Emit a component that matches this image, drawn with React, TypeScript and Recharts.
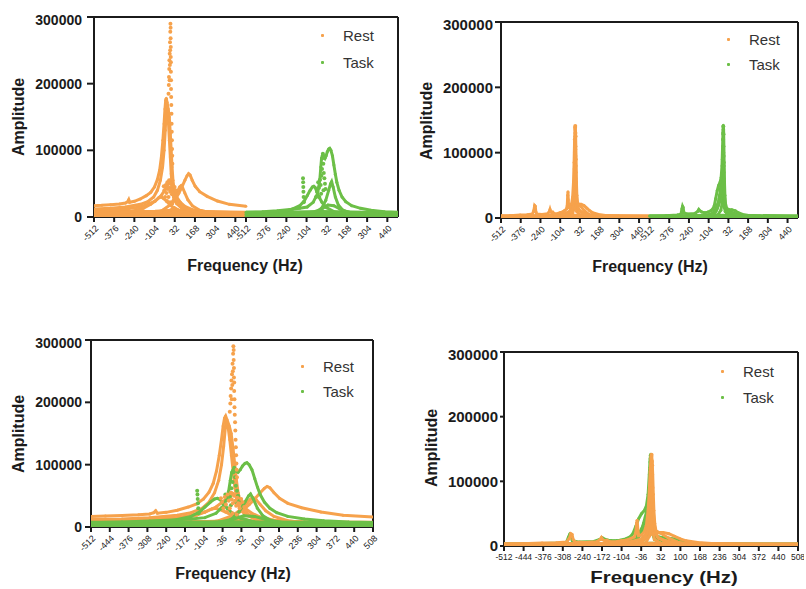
import React from "react";
import { ScatterChart, Scatter, XAxis, YAxis, ReferenceLine } from "recharts";

type Pt = [number, number];

const REST = "#F6A24C";
const TASK = "#6CBF47";
const INK = "#1b1b1b";
const FONT = "'Liberation Sans', Arial, Helvetica, sans-serif";

const halfTicks = [-512, -376, -240, -104, 32, 168, 304, 440];
const fullTicks = [-512, -444, -376, -308, -240, -172, -104, -36, 32, 100, 168, 236, 304, 372, 440, 508];
const ampTicks = [0, 100000, 200000, 300000];

// ---- dataset A (top-left split view, bottom-left overlay) ----
const restA1: Pt[] = [
  [-512, 17000], [-460, 17500], [-400, 18500], [-340, 19500], [-300, 21000], [-285, 23000], [-278, 26000],
  [-272, 22000], [-240, 23500], [-200, 27000], [-160, 32000], [-130, 37000], [-105, 45000], [-85, 56000],
  [-70, 70000], [-58, 90000], [-48, 115000], [-40, 140000], [-34, 162000], [-29, 175000], [-25, 178000],
  [-20, 172000], [-12, 162000], [-5, 150000], [2, 125000], [8, 100000], [14, 75000], [20, 55000],
  [28, 40000], [40, 28000], [60, 19000], [100, 13000], [180, 9000], [300, 7000], [420, 6000], [511, 5500],
];
const restA1b: Pt[] = [
  [-512, 12000], [-400, 13000], [-300, 15000], [-200, 19000], [-150, 23000], [-110, 30000], [-85, 40000],
  [-65, 55000], [-50, 75000], [-40, 100000], [-32, 130000], [-26, 160000], [-22, 170000], [-16, 160000],
  [-10, 140000], [-4, 115000], [2, 90000], [8, 65000], [15, 45000], [25, 30000], [45, 20000], [80, 13000],
  [150, 9000], [300, 6000], [511, 5000],
];
const restA2: Pt[] = [
  [0, 18000], [20, 22000], [40, 28000], [60, 36000], [80, 45000], [100, 55000], [115, 62000], [125, 65000],
  [135, 63000], [150, 55000], [170, 46000], [200, 38000], [250, 31000], [320, 24000], [400, 19000], [511, 16000],
];
const restA3: Pt[] = [
  [-512, 9000], [-400, 10000], [-300, 12000], [-200, 15000], [-150, 19000], [-100, 24000], [-60, 32000],
  [-30, 42000], [-10, 50000], [0, 54000], [10, 50000], [25, 40000], [45, 30000], [70, 22000], [100, 16000],
  [150, 11000], [250, 8000], [511, 6000],
];
const restA4: Pt[] = [
  [-512, 4000], [-350, 6000], [-250, 9000], [-180, 13000], [-130, 19000], [-100, 24000], [-75, 29000],
  [-60, 30000], [-45, 28000], [-25, 24000], [0, 18000], [30, 13000], [80, 8000], [150, 6000], [300, 4000], [511, 3000],
];
const restA5: Pt[] = [
  [-200, 3000], [-100, 6000], [-50, 10000], [0, 18000], [30, 28000], [50, 38000], [65, 45000], [75, 47000],
  [85, 44000], [100, 36000], [120, 26000], [150, 17000], [200, 10000], [300, 5000], [511, 3000],
];
const restA6: Pt[] = [
  [-512, 2000], [-100, 5000], [0, 10000], [30, 14000], [60, 10000], [150, 5000], [511, 2000],
];
const restAFloor: Pt[] = [
  [-512, 4000], [-300, 4500], [-100, 5000], [0, 6000], [100, 5000], [300, 4000], [511, 3500],
];
const restASpike: Pt[] = [
  [-10, 185000], [-8, 198000], [-7, 210000], [-5, 222000], [-4, 235000], [-3, 205000], [-2, 245000],
  [-1, 228000], [0, 262000], [1, 250000], [2, 278000], [3, 290000], [4, 284000], [4, 268000], [5, 255000],
  [5, 240000], [6, 232000], [6, 218000], [7, 205000], [7, 192000], [8, 180000], [9, 168000], [10, 155000],
  [11, 140000], [12, 128000], [13, 115000], [14, 102000], [15, 92000], [16, 80000],
];
const restAMid: Pt[] = [
  [-42, 46000], [-38, 40000], [-33, 30000], [-28, 48000], [-24, 36000], [-18, 52000], [-14, 42000],
  [-10, 30000], [-6, 55000], [-3, 44000], [1, 38000], [5, 50000], [9, 42000], [13, 34000], [17, 47000],
  [21, 38000], [26, 30000], [31, 45000], [36, 40000], [42, 32000], [50, 26000], [-20, 24000], [0, 22000], [15, 20000],
];

const taskA1: Pt[] = [
  [-512, 7000], [-400, 8000], [-300, 9500], [-200, 11500], [-150, 13000], [-100, 15000], [-60, 22000],
  [-30, 35000], [-15, 55000], [-8, 75000], [-3, 88000], [2, 92000], [8, 93000], [14, 90000], [20, 88000],
  [28, 92000], [36, 98000], [45, 102000], [52, 103000], [60, 100000], [70, 92000], [80, 78000], [90, 64000],
  [100, 52000], [115, 40000], [135, 30000], [160, 23000], [200, 17000], [260, 13000], [330, 10000],
  [420, 8000], [511, 7000],
];
const taskA2: Pt[] = [
  [-512, 4000], [-400, 5000], [-300, 7000], [-240, 9000], [-200, 12000], [-150, 17000], [-120, 24000],
  [-100, 32000], [-80, 40000], [-65, 45000], [-55, 46000], [-45, 44000], [-35, 38000], [-20, 30000],
  [0, 22000], [30, 14000], [80, 8000], [150, 5000], [300, 3000], [511, 2000],
];
const taskA3: Pt[] = [
  [-100, 3000], [-30, 8000], [0, 14000], [25, 25000], [45, 40000], [58, 50000], [65, 53000], [75, 45000],
  [90, 30000], [110, 18000], [140, 10000], [200, 6000], [300, 4000], [511, 3000],
];
const taskA4: Pt[] = [
  [-512, 1000], [-200, 3000], [-50, 8000], [0, 12000], [40, 18000], [80, 17000], [120, 12000],
  [180, 7000], [300, 3000], [511, 1500],
];
const taskAFloor: Pt[] = [
  [-512, 3500], [-300, 3500], [-100, 4000], [0, 4500], [100, 4000], [300, 3500], [511, 3000],
];
const taskASpike: Pt[] = [
  [-128, 58000], [-127, 52000], [-126, 45000], [-125, 38000], [-124, 30000], [-123, 22000],
];
const taskAMid: Pt[] = [
  [-40, 30000], [-32, 38000], [-26, 52000], [-20, 44000], [-14, 56000], [-9, 48000], [-4, 62000],
  [0, 72000], [3, 88000], [6, 95000], [9, 80000], [12, 66000], [16, 58000], [20, 50000], [24, 42000],
  [-18, 30000], [-6, 35000], [10, 40000],
];

// ---- dataset B (top-right split view, bottom-right overlay) ----
const restB1: Pt[] = [
  [-512, 3000], [-450, 3500], [-380, 4500], [-330, 5000], [-295, 6000], [-285, 12000], [-280, 19000],
  [-276, 18000], [-272, 10000], [-265, 6000], [-230, 5500], [-190, 6500], [-178, 10000], [-174, 13000],
  [-170, 10000], [-162, 8000], [-155, 9000], [-145, 6500], [-120, 7000], [-105, 8000], [-90, 9000],
  [-75, 11000], [-60, 14000], [-55, 20000], [-52, 35000], [-50, 40000], [-48, 28000], [-45, 16000],
  [-35, 17000], [-25, 22000], [-18, 32000], [-12, 55000], [-8, 85000], [-5, 115000], [-2, 135000],
  [0, 140000], [2, 132000], [4, 110000], [6, 80000], [8, 55000], [11, 35000], [15, 24000], [25, 21000],
  [40, 21000], [60, 19000], [80, 15000], [100, 11000], [120, 8000], [160, 5500], [220, 3500], [300, 2500],
  [400, 2000], [511, 2000],
];
const restB2: Pt[] = [
  [-80, 3000], [-40, 6000], [-10, 15000], [10, 22000], [30, 20000], [60, 12000], [90, 6000], [130, 3000], [200, 1500],
];
const restB3: Pt[] = [
  [-150, 3000], [-80, 6000], [-40, 10000], [-20, 18000], [-10, 30000], [-5, 50000], [0, 70000], [5, 45000],
  [10, 25000], [20, 14000], [40, 9000], [80, 5000], [150, 3000],
];
const restB4: Pt[] = [
  [-30, 8000], [-15, 20000], [-8, 40000], [-4, 75000], [-2, 110000], [0, 125000], [2, 100000], [5, 60000],
  [9, 35000], [14, 20000], [25, 12000], [50, 8000],
];
const restB5: Pt[] = [
  [-20, 5000], [-8, 15000], [-3, 30000], [0, 45000], [3, 25000], [10, 10000], [30, 5000],
];
const restBFloor: Pt[] = [[-512, 2000], [-200, 2200], [0, 2600], [200, 2200], [511, 1800]];
const restBSpike: Pt[] = [
  [-3, 120000], [-1, 138000], [0, 141000], [1, 130000], [2, 125000], [-2, 100000], [3, 90000],
  [-4, 75000], [0, 105000], [1, 95000], [-1, 80000], [2, 70000],
];

const taskB1: Pt[] = [
  [-512, 3000], [-400, 3500], [-320, 4500], [-295, 6000], [-288, 14000], [-284, 18000], [-280, 16000],
  [-275, 8000], [-250, 6000], [-200, 7000], [-180, 10000], [-172, 13000], [-165, 11000], [-150, 9000],
  [-130, 8000], [-110, 9000], [-90, 11000], [-75, 14000], [-65, 19000], [-55, 30000], [-45, 42000],
  [-35, 50000], [-25, 55000], [-18, 62000], [-12, 80000], [-8, 110000], [-5, 135000], [-3, 142000],
  [-1, 135000], [1, 110000], [3, 80000], [5, 55000], [8, 35000], [12, 22000], [20, 15000], [35, 13000],
  [55, 12500], [80, 11000], [100, 8000], [130, 5500], [170, 4000], [250, 3000], [350, 2500], [511, 2000],
];
const taskB2: Pt[] = [
  [-60, 8000], [-45, 15000], [-35, 25000], [-28, 35000], [-22, 45000], [-18, 52000], [-12, 45000],
  [-8, 30000], [0, 20000], [10, 15000], [30, 10000], [60, 7000], [100, 4000],
];
const taskB3: Pt[] = [
  [-120, 4000], [-80, 7000], [-60, 12000], [-40, 22000], [-25, 35000], [-15, 50000], [-8, 70000],
  [-3, 95000], [2, 60000], [6, 30000], [12, 16000], [25, 11000], [60, 8000], [120, 4000],
];
const taskB4: Pt[] = [
  [-70, 5000], [-50, 12000], [-35, 20000], [-20, 30000], [-10, 45000], [-5, 70000], [-3, 100000],
  [-1, 60000], [3, 30000], [8, 15000], [20, 8000], [50, 5000],
];
const taskB5: Pt[] = [
  [-40, 5000], [-20, 12000], [-8, 25000], [-3, 50000], [0, 25000], [10, 10000], [40, 4000],
];
const taskBFloor: Pt[] = [[-512, 2000], [-200, 2200], [0, 2800], [200, 2200], [511, 1800]];
const taskBSpike: Pt[] = [
  [-4, 130000], [-3, 140000], [-2, 128000], [-5, 120000], [-3, 100000], [-1, 95000], [-6, 90000],
  [0, 85000], [-4, 75000], [-2, 70000],
];

type Layer = { pts: Pt[]; color: string; mode: "line" | "dots" | "band"; w: number; off: number };

const L = (pts: Pt[], color: string, w = 3) => ({ pts, color, mode: "line" as const, w, off: 0 });
const D = (pts: Pt[], color: string) => ({ pts, color, mode: "dots" as const, w: 0, off: 0 });
const B = (pts: Pt[], color: string, w: number) => ({ pts, color, mode: "band" as const, w, off: 0 });
const shift = (ls: Layer[], off: number) => ls.map((l) => ({ ...l, off }));

const restALayers: Layer[] = [
  B(restAFloor, REST, 8), L(restA6, REST), L(restA4, REST), L(restA5, REST), L(restA3, REST),
  L(restA2, REST), L(restA1b, REST), L(restA1, REST), D(restAMid, REST), D(restASpike, REST),
];
const taskALayers: Layer[] = [
  B(taskAFloor, TASK, 8), L(taskA4, TASK), L(taskA3, TASK), L(taskA2, TASK), L(taskA1, TASK),
  D(taskAMid, TASK), D(taskASpike, TASK),
];
const restBLayers: Layer[] = [
  B(restBFloor, REST, 5), L(restB2, REST), L(restB3, REST), L(restB5, REST), L(restB4, REST),
  L(restB1, REST), D(restBSpike, REST),
];
const taskBLayers: Layer[] = [
  B(taskBFloor, TASK, 5), L(taskB2, TASK), L(taskB5, TASK), L(taskB4, TASK), L(taskB3, TASK),
  L(taskB1, TASK), D(taskBSpike, TASK),
];

const splitTicks = [...halfTicks.map((t) => t + 512), ...halfTicks.map((t) => t + 1536)];
const splitLabel = (v: number) => (v % 1024) - 512;

const YTick = (fs: number) => (p: any) => (
  <text x={p.x} y={p.y} dy="0.36em" textAnchor="end" fontSize={fs} fontWeight={700} fill={INK} fontFamily={FONT}>
    {p.payload.value}
  </text>
);

const RotTick = (split: boolean) => (p: any) => {
  const v = split ? splitLabel(p.payload.value) : p.payload.value;
  return (
    <text
      transform={`translate(${p.x + 5},${p.y + 5}) rotate(-45)`}
      textAnchor="end"
      fontSize={9}
      fill="#222"
      fontFamily={FONT}
    >
      {v}
    </text>
  );
};

const FlatTick = (p: any) => (
  <text x={p.x} y={p.y} dy={7} textAnchor="middle" fontSize={8.5} fill="#222" fontFamily={FONT}>
    {p.payload.value}
  </text>
);

interface PanelProps {
  left: number;
  top: number;
  w: number;
  h: number;
  split: boolean;
  layers: Layer[];
  yfs: number;
  ytick: number;
  ymargin: number;
  flat?: boolean;
}

function Panel({ left, top, w, h, split, layers, yfs, ytick, ymargin, flat }: PanelProps) {
  const yw = 70;
  const xh = 34;
  const xDomain: [number, number] = split ? [0, 2048] : [-512, 508];
  return (
    <div style={{ position: "absolute", left: left - yw, top: top - 6 }}>
      <ScatterChart width={yw + w + 6} height={h + 6 + xh} margin={{ top: 6, right: 6, left: 0, bottom: 0 }}>
        <XAxis
          type="number"
          dataKey="x"
          domain={xDomain}
          ticks={split ? splitTicks : fullTicks}
          interval={0}
          allowDataOverflow
          height={xh}
          tickSize={5}
          tickMargin={2}
          tick={flat ? FlatTick : RotTick(split)}
          axisLine={{ stroke: INK, strokeWidth: 2 }}
          tickLine={{ stroke: INK, strokeWidth: 2 }}
        />
        <YAxis
          type="number"
          dataKey="y"
          domain={[0, 300000]}
          ticks={ampTicks}
          allowDataOverflow
          width={yw}
          tickSize={ytick}
          tickMargin={ymargin}
          tick={YTick(yfs)}
          axisLine={{ stroke: INK, strokeWidth: 2 }}
          tickLine={{ stroke: INK, strokeWidth: 2 }}
        />
        {layers.map((l, i) => (
          <Scatter
            key={i}
            data={l.pts.map(([f, a]) => ({ x: f + l.off, y: a }))}
            fill={l.color}
            isAnimationActive={false}
            line={l.mode === "dots" ? false : { stroke: l.color, strokeWidth: l.w }}
            lineType="joint"
            shape={(p: any) =>
              l.mode === "band" ? <g /> : <circle cx={p.cx} cy={p.cy} r={l.mode === "dots" ? 2 : 1.5} fill={l.color} />
            }
          />
        ))}
        <ReferenceLine y={300000} stroke={INK} strokeWidth={2} />
        <ReferenceLine x={xDomain[1]} stroke={INK} strokeWidth={2} />
      </ScatterChart>
    </div>
  );
}

const AmpLabel = ({ x, y }: { x: number; y: number }) => (
  <div
    style={{
      position: "absolute", left: x, top: y, transform: "translate(-50%, -50%) rotate(-90deg)",
      fontFamily: FONT, fontWeight: 700, fontSize: 16, color: INK, whiteSpace: "nowrap",
    }}
  >
    Amplitude
  </div>
);

const FreqLabel = ({ x, y, big }: { x: number; y: number; big?: boolean }) => (
  <div
    style={{
      position: "absolute", left: x, top: y,
      transform: big ? "translate(-50%, -50%) scaleX(1.2)" : "translate(-50%, -50%)",
      fontFamily: FONT, fontWeight: 700, fontSize: big ? 17 : 16, color: INK, whiteSpace: "nowrap",
    }}
  >
    Frequency (Hz)
  </div>
);

const LegendItem = ({ x, y, color, text }: { x: number; y: number; color: string; text: string }) => (
  <>
    <div style={{ position: "absolute", left: x - 1.5, top: y - 1.5, width: 3, height: 3, background: color, borderRadius: 1 }} />
    <div
      style={{
        position: "absolute", left: x + 21, top: y, transform: "translateY(-50%)",
        fontFamily: FONT, fontSize: 15, color: "#333", whiteSpace: "nowrap",
      }}
    >
      {text}
    </div>
  </>
);

export default function App() {
  return (
    <div style={{ position: "absolute", left: 0, top: 0, width: 806, height: 589, background: "#fff", overflow: "hidden" }}>
      <Panel left={94} top={17} w={304} h={200} split
        layers={[...shift(restALayers, 512), ...shift(taskALayers, 1536)]} yfs={14} ytick={7} ymargin={5} />
      <Panel left={501} top={22} w={297} h={196} split
        layers={[...shift(restBLayers, 512), ...shift(taskBLayers, 1536)]} yfs={15} ytick={6} ymargin={2} />
      <Panel left={91} top={340} w={282} h={187} split={false}
        layers={[...restALayers.slice(0, 8), ...taskALayers, ...restALayers.slice(8)]} yfs={14} ytick={6} ymargin={3} />
      <Panel left={504} top={352} w={294} h={194} split={false} flat
        layers={[...taskBLayers, ...restBLayers]} yfs={15} ytick={4} ymargin={2} />

      <AmpLabel x={19} y={117} />
      <AmpLabel x={427} y={121} />
      <AmpLabel x={19} y={434} />
      <AmpLabel x={432} y={448} />

      <FreqLabel x={245} y={266} />
      <FreqLabel x={650} y={267} />
      <FreqLabel x={233} y={574} />
      <FreqLabel x={664} y={578} big />

      <LegendItem x={322} y={35} color={REST} text="Rest" />
      <LegendItem x={322} y={62} color={TASK} text="Task" />
      <LegendItem x={728} y={39} color={REST} text="Rest" />
      <LegendItem x={728} y={64} color={TASK} text="Task" />
      <LegendItem x={302} y={366} color={REST} text="Rest" />
      <LegendItem x={302} y={391} color={TASK} text="Task" />
      <LegendItem x={722} y={371} color={REST} text="Rest" />
      <LegendItem x={722} y={397} color={TASK} text="Task" />
    </div>
  );
}
